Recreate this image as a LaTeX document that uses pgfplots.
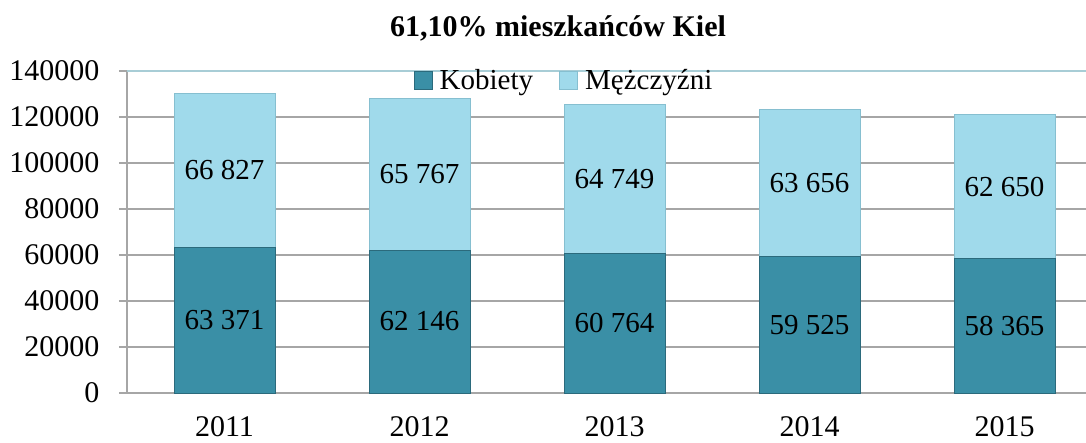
\documentclass[border=0pt]{standalone}
\usepackage{pgfplots}
\pgfplotsset{compat=1.18}
\usepackage{fontspec}
\setmainfont{Liberation Serif}
\definecolor{darkbar}{HTML}{3A8FA6}
\definecolor{darkedge}{HTML}{2B6A7C}
\definecolor{lightbar}{HTML}{A0DAEB}
\definecolor{lightedge}{HTML}{86BFD0}
\definecolor{gridgray}{HTML}{A6A6A6}
\definecolor{topline}{HTML}{A8CDD6}
\begin{document}
\begin{tikzpicture}
\begin{axis}[
  at={(127pt,49pt)}, anchor=south west,
  scale only axis, width=959pt, height=322pt,
  ybar stacked, bar width=101pt,
  xmin=-0.5, xmax=4.418,
  ymin=0, ymax=140000,
  xtick={0,...,4}, xticklabels={2011,2012,2013,2014,2015},
  ytick={0,20000,...,120000},
  extra y ticks={140000},
  extra y tick style={grid style={topline, line width=1.5pt}},
  scaled y ticks=false,
  /pgf/number format/fixed,
  /pgf/number format/1000 sep=,
  /pgf/number format/assume math mode=true,
  ticklabel style={font=\fontsize{30}{35}\selectfont},
  yticklabel style={xshift=-16pt},
  xticklabel style={yshift=-12pt},
  axis x line*=bottom, axis y line*=left,
  axis line style={gridgray, line width=1.5pt, -},
  ymajorgrids, grid style={gridgray, line width=1.2pt},
  xtick style={draw=none},
  ytick style={gridgray, line width=1.5pt},
  major tick length=8pt, tick align=outside,
  legend style={at={(0.4557,0.972)}, anchor=center, draw=none, fill=none,
    legend columns=2, font=\fontsize{29}{34}\selectfont,
    /tikz/every even column/.append style={column sep=24pt}},
  legend image code/.code={\draw[#1] (0pt,-9pt) rectangle (18pt,9pt); \path (23pt,0pt);},
  point meta=rawy,
  nodes near coords={\pgfmathprintnumber[fixed, 1000 sep={\ }, assume math mode=true]{\pgfplotspointmeta}},
  every node near coord/.append style={anchor=center, font=\fontsize{29}{34}\selectfont},
]
\addplot[fill=darkbar, draw=darkedge, line width=1pt] coordinates {(0,63371) (1,62146) (2,60764) (3,59525) (4,58365)};
\addplot[fill=lightbar, draw=lightedge, line width=1pt] coordinates {(0,66827) (1,65767) (2,64749) (3,63656) (4,62650)};
\legend{Kobiety, Mężczyźni}
\end{axis}
\node[font=\bfseries\fontsize{30}{36}\selectfont, anchor=base] at (558pt,405pt) {61,10\% mieszkańców Kiel};
\pgfresetboundingbox
\path[use as bounding box] (0,0) rectangle (1086pt,442pt);
\end{tikzpicture}
\end{document}
